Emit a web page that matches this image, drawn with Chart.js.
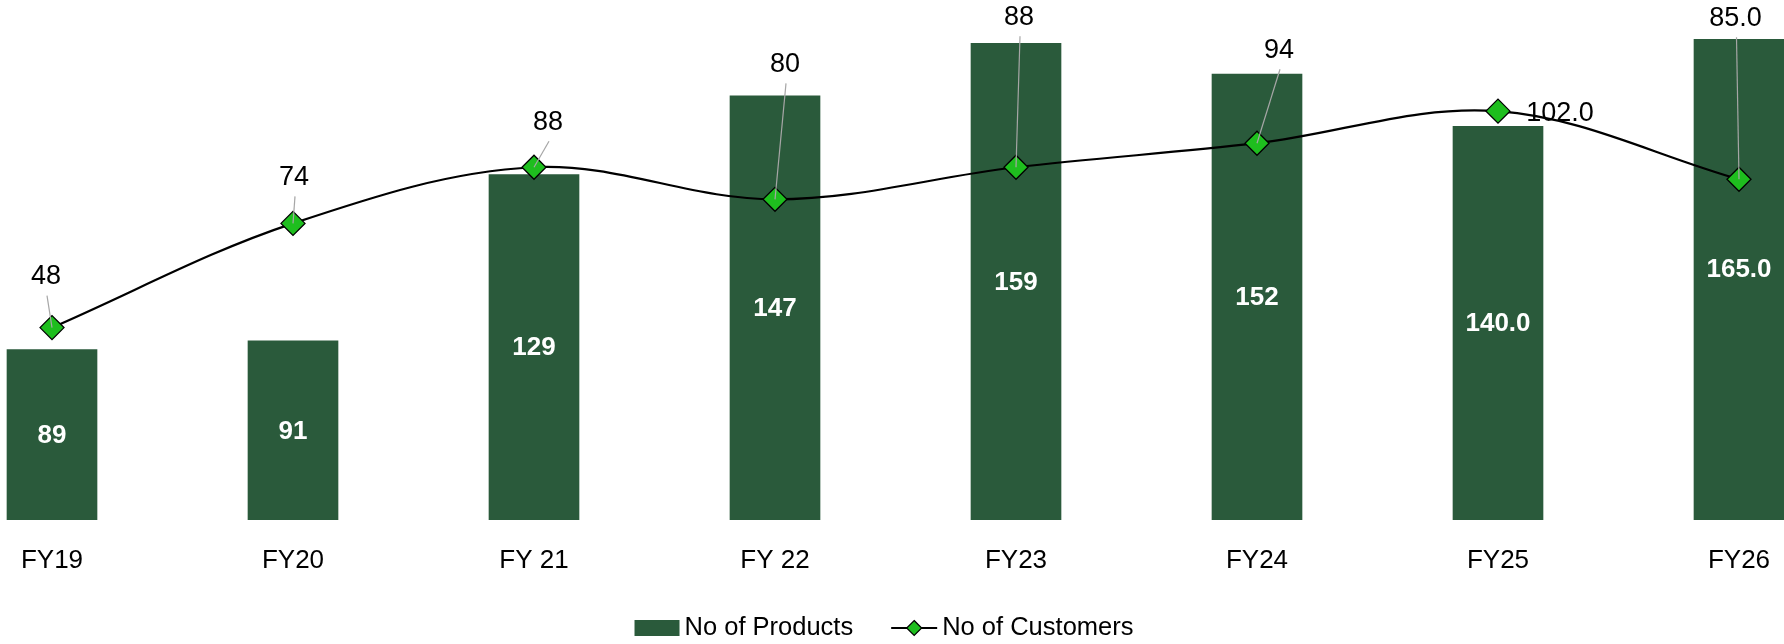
<!DOCTYPE html>
<html>
<head>
<meta charset="utf-8">
<script src="https://cdn.jsdelivr.net/npm/chart.js@4.4.0/dist/chart.umd.min.js"></script>
<style>
  html, body { margin: 0; padding: 0; background: #ffffff; }
  #wrap { width: 1784px; height: 644px; }
</style>
</head>
<body>
<div id="wrap"><canvas id="c" width="1784" height="644"></canvas></div>
<script>
// ---- data ----
const categories = ['FY19', 'FY20', 'FY 21', 'FY 22', 'FY23', 'FY24', 'FY25', 'FY26'];
const products = [89, 91, 129, 147, 159, 152, 140, 165];
const customers = [48, 74, 88, 80, 88, 94, 102, 85];
const productLabels = ['89', '91', '129', '147', '159', '152', '140.0', '165.0'];
const customerLabels = ['48', '74', '88', '80', '88', '94', '102.0', '85.0'];
const seriesNames = ['No of Products', 'No of Customers'];

// ---- style ----
const FONT = "'Liberation Sans', Arial, sans-serif";
const BAR_COLOR = '#2A5A3B';
const MARKER_COLOR = '#1EBE1E';
// label placement (pixel offsets of the text centre from the marker) and leader flag
const customerLabelOffsets = [[-6, -52], [1, -47], [14, -46], [10, -136], [3, -151], [22, -94], [62, 1], [-3.5, -162]];
const customerLeader = [true, true, true, true, true, true, false, true];

const labelPlugin = {
  id: 'labels',
  afterDatasetsDraw(chart) {
    const ctx = chart.ctx;
    const area = chart.chartArea;
    // bar labels (centred in the full bar)
    const barMeta = chart.getDatasetMeta(0);
    ctx.save();
    ctx.font = 'bold 26px ' + FONT;
    ctx.fillStyle = '#ffffff';
    ctx.textAlign = 'center';
    ctx.textBaseline = 'middle';
    barMeta.data.forEach((bar, i) => {
      const base = Math.min(bar.base, area.bottom);
      ctx.fillText(productLabels[i], bar.x, (bar.y + base) / 2 + 1);
    });
    ctx.restore();

    // line labels with leader lines
    const lineMeta = chart.getDatasetMeta(1);
    ctx.save();
    lineMeta.data.forEach((pt, i) => {
      const [dx, dy] = customerLabelOffsets[i];
      const tx = pt.x + dx, ty = pt.y + dy;
      if (customerLeader[i]) {
        ctx.strokeStyle = '#A6A6A6';
        ctx.lineWidth = 1.2;
        ctx.beginPath();
        ctx.moveTo(tx + 1, ty + 20);
        ctx.lineTo(pt.x, pt.y);
        ctx.stroke();
      }
      ctx.font = '27px ' + FONT;
      ctx.fillStyle = '#000000';
      ctx.textAlign = 'center';
      ctx.textBaseline = 'middle';
      ctx.fillText(customerLabels[i], tx, ty + 1);
    });
    ctx.restore();
  },
  afterDraw(chart) {
    // legend
    const ctx = chart.ctx;
    ctx.save();
    ctx.font = '25.5px ' + FONT;
    ctx.textBaseline = 'middle';
    ctx.textAlign = 'left';
    const cy = 628;
    const w1 = ctx.measureText(seriesNames[0]).width;
    const w2 = ctx.measureText(seriesNames[1]).width;
    const total = 45 + 5 + w1 + 38 + 46 + 5 + w2;
    let x = 884 - total / 2;
    ctx.fillStyle = BAR_COLOR;
    ctx.fillRect(x, cy - 8, 45, 16);
    x += 45 + 5;
    ctx.fillStyle = '#000';
    ctx.fillText(seriesNames[0], x, cy);
    x += w1 + 38;
    ctx.strokeStyle = '#000';
    ctx.lineWidth = 2;
    ctx.beginPath();
    ctx.moveTo(x, cy);
    ctx.lineTo(x + 46, cy);
    ctx.stroke();
    const mx = x + 23, r = 7.5;
    ctx.beginPath();
    ctx.moveTo(mx, cy - r);
    ctx.lineTo(mx + r, cy);
    ctx.lineTo(mx, cy + r);
    ctx.lineTo(mx - r, cy);
    ctx.closePath();
    ctx.fillStyle = MARKER_COLOR;
    ctx.fill();
    ctx.lineWidth = 1.2;
    ctx.stroke();
    x += 46 + 5;
    ctx.fillStyle = '#000';
    ctx.fillText(seriesNames[1], x, cy);
    ctx.restore();
  }
};

new Chart(document.getElementById('c'), {
  data: {
    labels: categories,
    datasets: [
      {
        type: 'bar',
        label: seriesNames[0],
        data: products,
        backgroundColor: BAR_COLOR,
        barThickness: 90,
        yAxisID: 'y',
        order: 2,
        clip: { left: 60, right: 60, top: 0, bottom: 0 }
      },
      {
        type: 'line',
        label: seriesNames[1],
        data: customers,
        borderColor: '#000000',
        borderWidth: 2.2,
        tension: 0.35,
        pointStyle: 'rectRot',
        pointRadius: 12,
        pointHoverRadius: 12,
        pointBackgroundColor: MARKER_COLOR,
        pointBorderColor: '#000000',
        pointBorderWidth: 1.3,
        yAxisID: 'y1',
        order: 1,
        clip: false
      }
    ]
  },
  options: {
    responsive: false,
    animation: false,
    devicePixelRatio: 1,
    layout: { padding: { left: 52, right: 45, top: 39, bottom: 0 } },
    plugins: {
      legend: { display: false },
      tooltip: { enabled: false }
    },
    scales: {
      x: {
        offset: false,
        grid: { display: false, drawTicks: false },
        border: { display: false },
        ticks: { color: '#000', font: { family: FONT, size: 26 }, padding: 25, maxRotation: 0, autoSkip: false },
        afterFit(scale) {
          scale.height = 124;
          scale.paddingLeft = 0;
          scale.paddingRight = 0;
        }
      },
      y: { display: false, min: 50, max: 160 },
      y1: { display: false, min: 0, max: 120, position: 'right' }
    }
  },
  plugins: [labelPlugin]
});
</script>
</body>
</html>
